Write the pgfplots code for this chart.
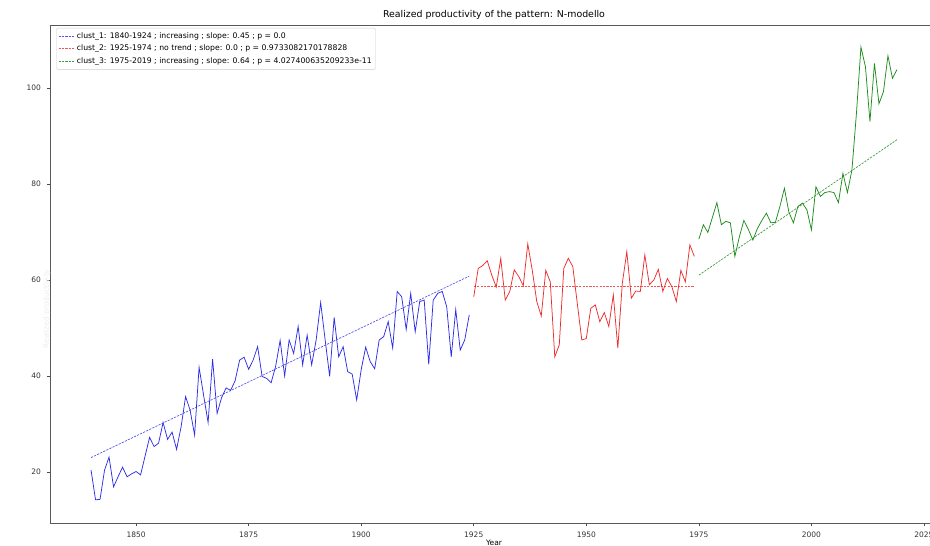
\documentclass[border=0pt]{standalone}
\usepackage{pgfplots}
\pgfplotsset{compat=1.18}
\usepackage{fontspec}
\setmainfont{DejaVu Sans}
\definecolor{cblue}{RGB}{45,45,230}
\definecolor{cred}{RGB}{235,45,45}
\definecolor{cgreen}{RGB}{30,140,30}
\begin{document}
\begin{tikzpicture}
\useasboundingbox (0,0) rectangle (930pt,546pt);
\begin{scope}
\clip (0,0) rectangle (930pt,546pt);
\begin{axis}[
  at={(50.7pt,23pt)}, anchor=south west,
  scale only axis, width=886.6pt, height=498pt,
  xmin=1831.04, xmax=2027.96, ymin=9.375, ymax=113.1,
  xtick={1850,1875,1900,1925,1950,1975,2000,2025},
  ytick={20,40,60,80,100},
  tick pos=left, tick align=outside, major tick length=3.5pt,
  tick style={black!70, line width=0.6pt},
  axis line style={black!65, line width=0.7pt},
  /pgf/number format/assume math mode=true,
  /pgf/number format/1000 sep={},
  ticklabel style={font=\fontsize{7.5}{9}\selectfont, text=black!80},
  xticklabel style={inner sep=0pt, anchor=north, yshift=-5.5pt},
  yticklabel style={inner sep=0pt, anchor=east, xshift=-6pt},
  title={Realized productivity of the pattern: N-modello},
  title style={at={(0.5,1)}, anchor=base, yshift=1.5pt, inner sep=0pt, font=\fontsize{9.4}{11}\selectfont},
  xlabel={Year},
  xlabel style={at={(0.5,0)}, anchor=north, yshift=-17pt, inner sep=0pt, font=\fontsize{7.5}{9}\selectfont},
  ylabel={Realized productivity},
  ylabel style={at={(0,0.5)}, xshift=-35pt, inner sep=0pt, font=\fontsize{7.5}{9}\selectfont, text=black!7},
  legend cell align=left,
  legend style={at={(0.006,0.994)}, anchor=north west, draw=black!20, rounded corners=1.5pt,
    font=\fontsize{7.7}{9}\selectfont, inner xsep=2pt, inner ysep=2pt, row sep=0pt,
    nodes={text height=6pt, text depth=1.6pt, inner ysep=2.4pt, inner xsep=2pt}},
  legend image code/.code={\draw[#1] (0pt,0pt) -- (13pt,0pt); \path (0pt,0pt) -- (16pt,0pt);},
]
\addplot[cblue!80, line width=0.7pt, dash pattern=on 2.2pt off 1.2pt] coordinates {(1840,23.0) (1924,60.8)};
\addlegendentry{clust\_1: 1840-1924 ; increasing ; slope: 0.45 ; p = 0.0}
\addplot[cred!80, line width=0.7pt, dash pattern=on 2.2pt off 1.2pt] coordinates {(1925,58.6) (1974,58.6)};
\addlegendentry{clust\_2: 1925-1974 ; no trend ; slope: 0.0 ; p = 0.9733082170178828}
\addplot[cgreen!85, line width=0.7pt, dash pattern=on 2.2pt off 1.2pt] coordinates {(1975,61.0) (2019,89.2)};
\addlegendentry{clust\_3: 1975-2019 ; increasing ; slope: 0.64 ; p = 4.027400635209233e-11}

\addplot[cblue, line width=0.75pt, forget plot] table {
1840 20.4
1841 14.2
1842 14.3
1843 20.4
1844 23.1
1845 16.9
1846 19.0
1847 21.0
1848 19.0
1849 19.6
1850 20.1
1851 19.4
1852 23.3
1853 27.2
1854 25.3
1855 26.0
1856 30.3
1857 26.8
1858 28.3
1859 24.7
1860 29.4
1861 35.7
1862 32.9
1863 27.7
1864 41.8
1865 36.0
1866 30.3
1867 43.5
1868 32.2
1869 35.5
1870 37.5
1871 37.0
1872 39.0
1873 43.3
1874 43.9
1875 41.4
1876 43.3
1877 46.1
1878 39.9
1879 39.5
1880 38.6
1881 42.0
1882 47.4
1883 40.0
1884 47.5
1885 44.7
1886 50.3
1887 42.3
1888 48.5
1889 42.3
1890 47.5
1891 55.3
1892 47.5
1893 39.9
1894 52.2
1895 44.0
1896 46.1
1897 40.9
1898 40.4
1899 35.0
1900 41.3
1901 46.0
1902 43.0
1903 41.5
1904 47.5
1905 48.2
1906 51.3
1907 45.8
1908 57.6
1909 56.5
1910 49.7
1911 57.2
1912 49.2
1913 55.5
1914 55.8
1915 42.4
1916 55.8
1917 57.2
1918 57.6
1919 54.4
1920 44.0
1921 53.8
1922 45.4
1923 47.5
1924 52.7
};
\addplot[cred, line width=0.75pt, forget plot] table {
1925 56.5
1926 62.4
1927 63.0
1928 64.0
1929 61.0
1930 58.5
1931 64.5
1932 55.8
1933 57.6
1934 62.1
1935 60.7
1936 58.8
1937 67.5
1938 62.0
1939 55.5
1940 52.5
1941 62.0
1942 59.6
1943 44.0
1944 46.5
1945 62.4
1946 64.5
1947 62.8
1948 55.1
1949 47.5
1950 47.8
1951 54.1
1952 54.8
1953 51.3
1954 53.2
1955 50.3
1956 56.9
1957 45.8
1958 59.3
1959 65.9
1960 56.2
1961 57.7
1962 57.6
1963 65.2
1964 59.0
1965 60.0
1966 62.2
1967 57.6
1968 60.3
1969 58.6
1970 55.5
1971 62.0
1972 59.6
1973 67.3
1974 64.9
};
\addplot[cgreen, line width=0.75pt, forget plot] table {
1975 68.5
1976 71.5
1977 69.9
1978 73.0
1979 76.1
1980 71.5
1981 72.2
1982 71.9
1983 64.9
1984 69.0
1985 72.4
1986 70.5
1987 68.3
1988 70.7
1989 72.4
1990 73.9
1991 71.9
1992 72.0
1993 75.3
1994 79.1
1995 74.1
1996 71.9
1997 75.3
1998 76.0
1999 74.6
2000 70.4
2001 79.4
2002 77.4
2003 78.2
2004 78.4
2005 78.2
2006 76.1
2007 82.2
2008 78.2
2009 82.9
2010 94.7
2011 108.5
2012 104.4
2013 93.0
2014 105.1
2015 96.7
2016 99.2
2017 106.7
2018 102.0
2019 103.8
};
\end{axis}
\end{scope}
\end{tikzpicture}
\end{document}
